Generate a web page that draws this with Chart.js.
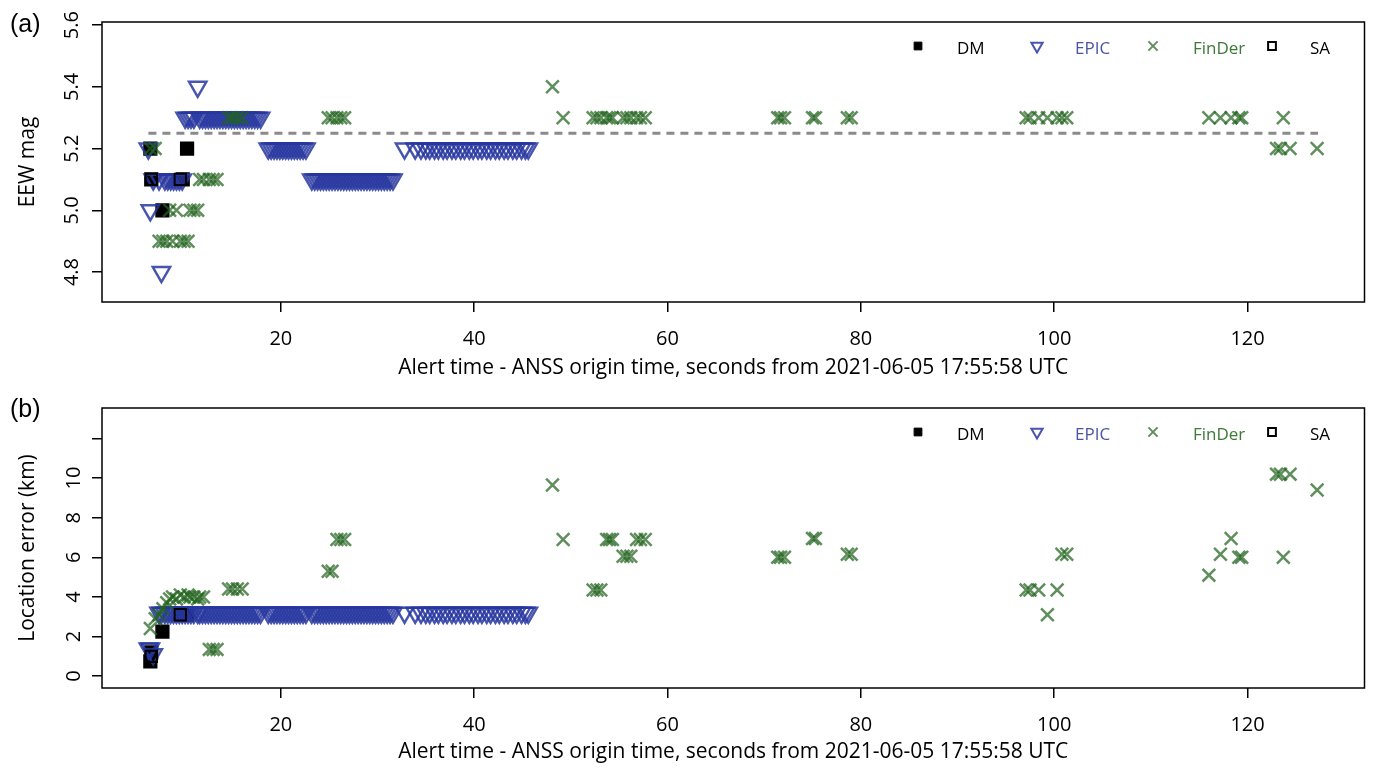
<!DOCTYPE html>
<html>
<head>
<meta charset="utf-8">
<title>EEW alerts, 2021-06-05 event</title>
<script src="https://cdn.jsdelivr.net/npm/chart.js@4.4.1/dist/chart.umd.min.js"></script>
<style>
  html, body { margin: 0; padding: 0; background: #fff; }
  .panel { width: 1377px; height: 384px; }
</style>
</head>
<body>
<div class="panel"><canvas id="magChart" width="1377" height="384"></canvas></div>
<div class="panel"><canvas id="errChart" width="1377" height="384"></canvas></div>
<script>
// alert times are seconds after the ANSS origin time
const timeTicks = [20, 40, 60, 80, 100, 120];
const magTicks = [4.8, 5.0, 5.2, 5.4, 5.6];
const magTickLabels = ['4.8', '5.0', '5.2', '5.4', '5.6'];
const errTicks = [0, 2, 4, 6, 8, 10, 12];
const errTickLabels = ['0', '2', '4', '6', '8', '10', ''];

const seriesNames = ['DM', 'EPIC', 'FinDer', 'SA'];

// DM
const dmTime = [6.5, 6.6, 7.75, 9.85, 10.3];
const dmMag = [5.2, 5.1, 5.0, 5.1, 5.2];
const dmErr = [0.75, 1.2, 2.25, 3.1, 3.1];

// EPIC
const epicTime = [6.3, 6.5, 6.8, 7.4, 7.65, 8.0, 8.3, 8.6, 8.9, 9.2, 9.5, 9.8,
  10.1, 10.4, 10.7, 11.0, 11.4,
  11.6, 11.9, 12.2, 12.5, 12.8, 13.1, 13.4, 13.7, 14.0, 14.3, 14.6,
  14.9, 15.2, 15.5, 15.8, 16.1, 16.4, 16.7, 17.0, 17.3, 17.6, 17.9,
  18.7, 19.0, 19.3, 19.6, 19.9, 20.2, 20.5, 20.8, 21.1, 21.4, 21.7, 22.0, 22.3, 22.6,
  23.2, 23.5, 23.8, 24.1, 24.4, 24.7, 25.0, 25.3, 25.6, 25.9,
  26.2, 26.5, 26.8, 27.1, 27.4, 27.7, 28.0, 28.3, 28.6, 28.9,
  29.2, 29.5, 29.8, 30.1, 30.4, 30.7, 31.0, 31.3, 31.6,
  32.8, 33.9, 34.5, 35.0, 35.4, 35.9, 36.3, 36.8, 37.2, 37.7,
  38.1, 38.6, 39.0, 39.5, 39.9, 40.4, 40.8, 41.3, 41.7, 42.2,
  42.6, 43.1, 43.5, 44.0, 44.4, 44.9, 45.3, 45.6];
const epicMag = [5.2, 5.0, 5.1, 5.1, 4.8, 5.1, 5.1, 5.1, 5.1, 5.1, 5.1, 5.1,
  5.3, 5.3, 5.3, 5.3, 5.4,
  5.3, 5.3, 5.3, 5.3, 5.3, 5.3, 5.3, 5.3, 5.3, 5.3, 5.3,
  5.3, 5.3, 5.3, 5.3, 5.3, 5.3, 5.3, 5.3, 5.3, 5.3, 5.3,
  5.2, 5.2, 5.2, 5.2, 5.2, 5.2, 5.2, 5.2, 5.2, 5.2, 5.2, 5.2, 5.2, 5.2,
  5.1, 5.1, 5.1, 5.1, 5.1, 5.1, 5.1, 5.1, 5.1, 5.1,
  5.1, 5.1, 5.1, 5.1, 5.1, 5.1, 5.1, 5.1, 5.1, 5.1,
  5.1, 5.1, 5.1, 5.1, 5.1, 5.1, 5.1, 5.1, 5.1,
  5.2, 5.2, 5.2, 5.2, 5.2, 5.2, 5.2, 5.2, 5.2, 5.2,
  5.2, 5.2, 5.2, 5.2, 5.2, 5.2, 5.2, 5.2, 5.2, 5.2,
  5.2, 5.2, 5.2, 5.2, 5.2, 5.2, 5.2, 5.2];
const epicErr = [1.4, 1.4, 1.1, 3.2, 3.2, 3.2, 3.2, 3.2, 3.2, 3.2, 3.2, 3.2,
  3.2, 3.2, 3.2, 3.2, 3.2,
  3.2, 3.2, 3.2, 3.2, 3.2, 3.2, 3.2, 3.2, 3.2, 3.2, 3.2,
  3.2, 3.2, 3.2, 3.2, 3.2, 3.2, 3.2, 3.2, 3.2, 3.2, 3.2,
  3.2, 3.2, 3.2, 3.2, 3.2, 3.2, 3.2, 3.2, 3.2, 3.2, 3.2, 3.2, 3.2, 3.2,
  3.2, 3.2, 3.2, 3.2, 3.2, 3.2, 3.2, 3.2, 3.2, 3.2,
  3.2, 3.2, 3.2, 3.2, 3.2, 3.2, 3.2, 3.2, 3.2, 3.2,
  3.2, 3.2, 3.2, 3.2, 3.2, 3.2, 3.2, 3.2, 3.2,
  3.2, 3.2, 3.2, 3.2, 3.2, 3.2, 3.2, 3.2, 3.2, 3.2,
  3.2, 3.2, 3.2, 3.2, 3.2, 3.2, 3.2, 3.2, 3.2, 3.2,
  3.2, 3.2, 3.2, 3.2, 3.2, 3.2, 3.2, 3.2];

// FinDer
const finderTime = [6.5, 7.0, 7.4, 7.8, 8.2, 8.5, 8.8, 9.2, 9.6, 10.0, 10.4, 10.6, 11.0, 11.4, 11.6, 12.0, 12.6, 13.0, 13.4,
  14.6, 15.0, 15.5, 16.0, 24.9, 25.3, 25.8, 26.2, 26.6,
  48.1, 49.2, 52.3, 52.7, 53.1, 53.7, 54.0, 54.3, 55.4, 55.8, 56.2, 56.8, 57.2, 57.7,
  71.4, 71.7, 72.1, 75.0, 75.3, 78.6, 79.0,
  97.1, 97.5, 98.4, 99.3, 100.3, 100.8, 101.3,
  116.0, 117.2, 118.3, 119.1, 119.4, 123.0, 123.4, 123.7, 124.4, 127.2];
const finderMag = [5.2, 5.2, 4.9, 4.9, 4.9, 5.0, 4.9, 5.0, 4.9, 4.9, 4.9, 5.0, 5.0, 5.0, 5.1, 5.1, 5.1, 5.1, 5.1,
  5.3, 5.3, 5.3, 5.3, 5.3, 5.3, 5.3, 5.3, 5.3,
  5.4, 5.3, 5.3, 5.3, 5.3, 5.3, 5.3, 5.3, 5.3, 5.3, 5.3, 5.3, 5.3, 5.3,
  5.3, 5.3, 5.3, 5.3, 5.3, 5.3, 5.3,
  5.3, 5.3, 5.3, 5.3, 5.3, 5.3, 5.3,
  5.3, 5.3, 5.3, 5.3, 5.3, 5.2, 5.2, 5.3, 5.2, 5.2];
const finderErr = [2.4, 2.9, 3.1, 3.4, 3.7, 3.9, 4.0, 3.9, 4.1, 4.0, 4.1, 4.0, 4.0, 3.9, 4.0, 4.0, 1.35, 1.35, 1.35,
  4.4, 4.4, 4.4, 4.4, 5.3, 5.3, 6.9, 6.9, 6.9,
  9.65, 6.9, 4.35, 4.35, 4.35, 6.9, 6.9, 6.9, 6.05, 6.05, 6.05, 6.9, 6.9, 6.9,
  6.0, 6.0, 6.0, 6.95, 6.95, 6.15, 6.15,
  4.35, 4.35, 4.35, 3.1, 4.35, 6.15, 6.15,
  5.1, 6.15, 6.95, 6.0, 6.0, 10.2, 10.2, 6.0, 10.2, 9.4];

// SA
const saTime = [6.6, 9.6];
const saMag = [5.1, 5.1];
const saErr = [1.0, 3.1];

// final catalog magnitude, drawn as the dashed reference line
const refTime = [6.3, 127.3];
const refMag = 5.25;

const epicColor = 'rgba(40, 55, 160, 0.85)';
const finderColor = 'rgba(35, 100, 30, 0.72)';
const xTitle = 'Alert time - ANSS origin time, seconds from 2021-06-05 17:55:58 UTC';

Chart.defaults.font.family = "'Open Sans', sans-serif";
Chart.defaults.font.size = 20;
Chart.defaults.color = '#000';

const pts = (xs, ys) => xs.map((x, i) => ({ x: x, y: Array.isArray(ys) ? ys[i] : ys }));

function seriesDatasets(values) {
  return [
    { label: seriesNames[0], data: pts(dmTime, values.dm), order: 3,
      pointStyle: 'rect', pointRadius: 9, borderWidth: 1.5, borderColor: '#000', backgroundColor: '#000' },
    { label: seriesNames[1], data: pts(epicTime, values.epic), order: 2,
      pointStyle: 'triangle', pointRotation: 180, pointRadius: 10, borderWidth: 2.5,
      borderColor: epicColor, backgroundColor: 'rgba(0,0,0,0)' },
    { label: seriesNames[2], data: pts(finderTime, values.finder), order: 1,
      pointStyle: 'crossRot', pointRadius: 9, borderWidth: 2.5, borderColor: finderColor, backgroundColor: finderColor },
    { label: seriesNames[3], data: pts(saTime, values.sa), order: 0,
      pointStyle: 'rect', pointRadius: 8, borderWidth: 2, borderColor: '#000', backgroundColor: 'rgba(0,0,0,0)' }
  ];
}

const legendEntries = [
  { markX: 918, textX: 957, color: '#000', fill: '#000', stroke: '#000',
    point: { pointStyle: 'rect', radius: 5.5, borderWidth: 1 } },
  { markX: 1037, textX: 1075, color: '#4a55a5', fill: 'rgba(0,0,0,0)', stroke: epicColor,
    point: { pointStyle: 'triangle', rotation: 180, radius: 6.5, borderWidth: 2 } },
  { markX: 1153, textX: 1193, color: '#3d7a38', fill: 'rgba(0,0,0,0)', stroke: finderColor,
    point: { pointStyle: 'crossRot', radius: 6.5, borderWidth: 2 } },
  { markX: 1272, textX: 1310, color: '#000', fill: 'rgba(0,0,0,0)', stroke: '#000',
    point: { pointStyle: 'rect', radius: 5.5, borderWidth: 2 } }
];

// box around the plot, legend row and panel letter
const framePlugin = {
  id: 'frame',
  afterDraw(chart, args, opts) {
    const { ctx, chartArea: a } = chart;
    ctx.save();
    ctx.strokeStyle = '#000';
    ctx.lineWidth = 1.5;
    ctx.strokeRect(a.left, a.top, a.right - a.left, a.bottom - a.top);

    legendEntries.forEach((e, i) => {
      ctx.fillStyle = e.fill;
      ctx.strokeStyle = e.stroke;
      ctx.lineWidth = e.point.borderWidth;
      Chart.helpers.drawPoint(ctx, e.point, e.markX, a.top + 24);
      ctx.fillStyle = e.color;
      ctx.font = "17px 'Open Sans', sans-serif";
      ctx.textAlign = 'left';
      ctx.textBaseline = 'middle';
      ctx.fillText(seriesNames[i], e.textX, a.top + 27);
    });

    ctx.fillStyle = '#000';
    ctx.font = "25px 'Liberation Sans', Arial, sans-serif";
    ctx.textAlign = 'left';
    ctx.textBaseline = 'middle';
    ctx.fillText(opts.panel, 10, opts.panelY);
    ctx.restore();
  }
};

function makeChart(id, cfg) {
  return new Chart(document.getElementById(id), {
    type: 'scatter',
    data: { datasets: cfg.datasets },
    options: {
      responsive: false,
      animation: false,
      events: [],
      layout: { padding: { top: cfg.top, right: 2, left: 0, bottom: 0 } },
      plugins: {
        legend: { display: false },
        tooltip: { enabled: false },
        frame: { panel: cfg.panel, panelY: cfg.panelY }
      },
      scales: {
        x: {
          type: 'linear', min: 1.5, max: 132.1,
          afterBuildTicks: s => { s.ticks = timeTicks.map(v => ({ value: v })); },
          afterFit: s => { s.height = cfg.xHeight; },
          grid: { drawOnChartArea: false, tickLength: 10, color: '#000', lineWidth: 1.5 },
          border: { display: false },
          ticks: { padding: 15, maxRotation: 0, minRotation: 0, callback: v => String(v) },
          title: { display: true, text: xTitle, font: { size: 21 }, padding: { top: 0, bottom: 3 } }
        },
        y: {
          type: 'linear', min: cfg.yMin, max: cfg.yMax,
          afterBuildTicks: s => { s.ticks = cfg.yTicks.map(v => ({ value: v })); },
          afterFit: s => { s.width = 102; },
          grid: { drawOnChartArea: false, tickLength: 10, color: '#000', lineWidth: 1.5 },
          border: { display: false },
          ticks: { padding: 6, minRotation: 90, maxRotation: 90, crossAlign: 'center',
            callback: (v, i) => cfg.yLabels[i] },
          title: { display: true, text: cfg.yTitle, font: { size: 21 }, padding: { top: 15, bottom: 0 } }
        }
      }
    },
    plugins: [framePlugin]
  });
}

const magSets = seriesDatasets({ dm: dmMag, epic: epicMag, finder: finderMag, sa: saMag });
magSets.push({
  type: 'line', label: 'final', data: pts(refTime, refMag), order: 4,
  borderColor: '#8a8a8a', borderWidth: 3, borderDash: [8, 6], pointRadius: 0, fill: false
});

makeChart('magChart', {
  datasets: magSets, top: 22, xHeight: 82,
  yMin: 4.703, yMax: 5.61, yTicks: magTicks, yLabels: magTickLabels, yTitle: 'EEW mag',
  panel: '(a)', panelY: 25
});

makeChart('errChart', {
  datasets: seriesDatasets({ dm: dmErr, epic: epicErr, finder: finderErr, sa: saErr }),
  top: 24, xHeight: 80,
  yMin: -0.6, yMax: 13.54, yTicks: errTicks, yLabels: errTickLabels, yTitle: 'Location error (km)',
  panel: '(b)', panelY: 26
});
</script>
</body>
</html>
